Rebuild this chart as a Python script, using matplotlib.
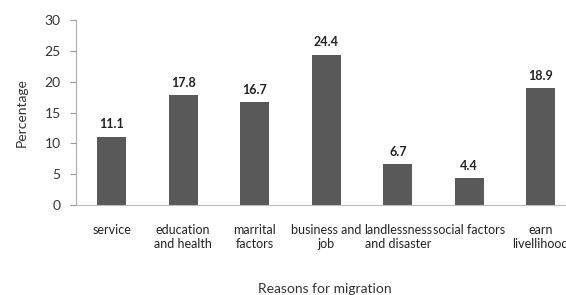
import matplotlib
matplotlib.use("Agg")
import matplotlib.pyplot as plt

categories = ["service", "education\nand health", "marrital\nfactors", "business and\njob",
              "landlessness\nand disaster", "social factors", "earn\nlivellihood"]
values = [11.1, 17.8, 16.7, 24.4, 6.7, 4.4, 18.9]
yticks = [0, 5, 10, 15, 20, 25, 30]

plt.rcParams['font.family'] = ['Lato', 'DejaVu Sans']

fig = plt.figure(figsize=(5.66, 2.95), dpi=100)
ax = fig.add_axes([76/566, 90/295, 500.5/566, 185/295])

x = list(range(len(categories)))
bars = ax.bar(x, values, width=0.4, color="#595959")
for xi, v in zip(x, values):
    ax.text(xi, v + 1.0, f"{v:.1f}", ha="center", va="bottom", fontsize=9, fontweight="bold", color="#222222")

ax.set_xlim(-0.5, len(categories) - 0.5)
ax.set_ylim(0, 30)
ax.set_yticks(yticks)
ax.set_yticklabels([str(t) for t in yticks], fontsize=10, color="#333333")
ax.set_xticks(x)
ax.set_xticklabels(categories, fontsize=9, color="#222222", linespacing=1.15)
ax.tick_params(axis="x", length=0, pad=14)
ax.tick_params(axis="y", length=4, color="#999999", direction="out", pad=7)

for s in ["top", "right"]:
    ax.spines[s].set_visible(False)
ax.spines["left"].set_color("#aaaaaa")
ax.spines["bottom"].set_color("#bbbbbb")

ax.set_ylabel("Percentage", fontsize=10, color="#333333", labelpad=12)
fig.text(325/566, 1 - 289/295, "Reasons for migration", ha="center", va="center", fontsize=10, color="#333333")

fig.savefig("out.png", dpi=100)
